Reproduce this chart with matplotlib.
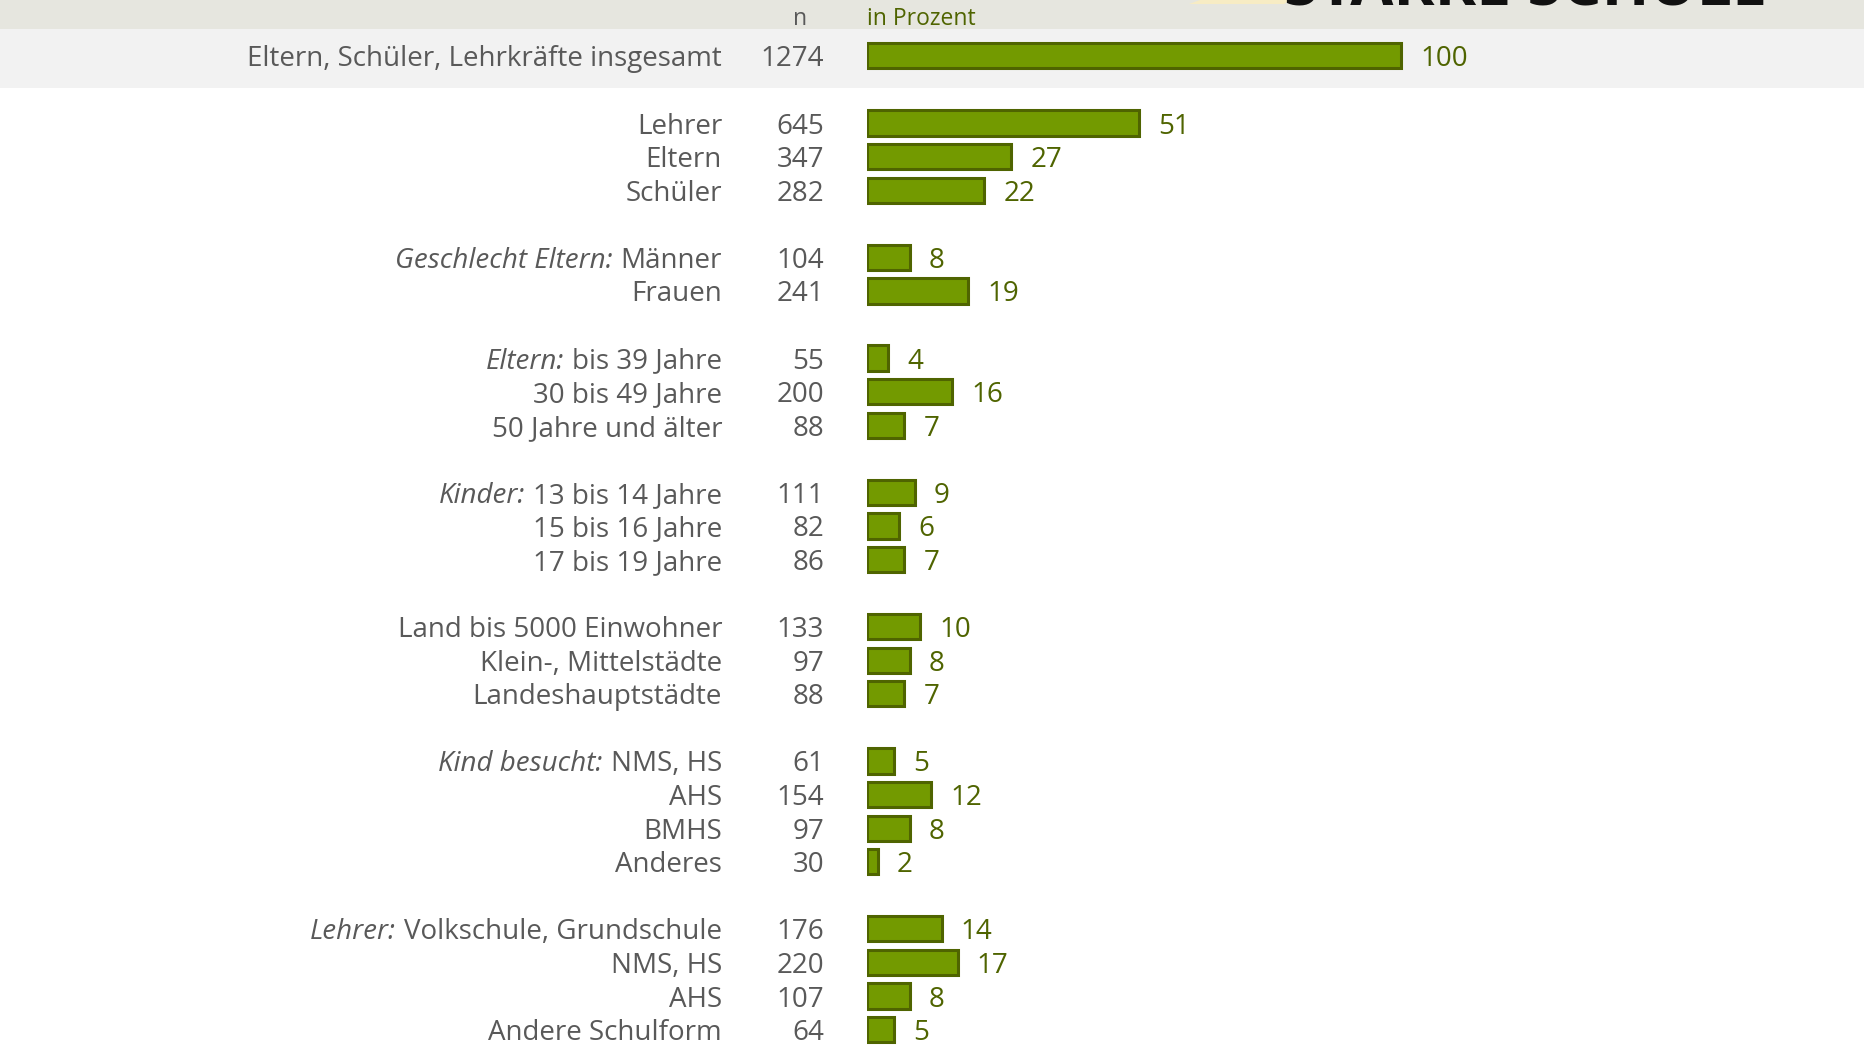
import matplotlib
matplotlib.use("Agg")
import matplotlib.pyplot as plt
from matplotlib.patches import Rectangle, Polygon
from matplotlib.transforms import blended_transform_factory

# data
prefixes = ["", "", "", "", "Geschlecht Eltern:", "", "Eltern:", "", "", "Kinder:", "", "",
            "", "", "", "Kind besucht:", "", "", "", "Lehrer:", "", "", ""]
labels = ["Eltern, Schüler, Lehrkräfte insgesamt",
          "Lehrer", "Eltern", "Schüler",
          "Männer", "Frauen",
          "bis 39 Jahre", "30 bis 49 Jahre", "50 Jahre und älter",
          "13 bis 14 Jahre", "15 bis 16 Jahre", "17 bis 19 Jahre",
          "Land bis 5000 Einwohner", "Klein-, Mittelstädte", "Landeshauptstädte",
          "NMS, HS", "AHS", "BMHS", "Anderes",
          "Volkschule, Grundschule", "NMS, HS", "AHS", "Andere Schulform"]
n_vals = [1274, 645, 347, 282, 104, 241, 55, 200, 88, 111, 82, 86,
          133, 97, 88, 61, 154, 97, 30, 176, 220, 107, 64]
pct = [100, 51, 27, 22, 8, 19, 4, 16, 7, 9, 6, 7, 10, 8, 7, 5, 12, 8, 2, 14, 17, 8, 5]
group_sizes = [1, 3, 2, 3, 3, 3, 4, 4]

# row positions with a blank row between groups
rows = []
r = 0
for g in group_sizes:
    for i in range(g):
        rows.append(r)
        r += 1
    r += 1

W, H = 1864, 1053
fig = plt.figure(figsize=(W / 100, H / 100), dpi=100)
fig.patch.set_facecolor("white")

# header band and highlight band for the total row
fig.patches.append(Rectangle((0, 1 - 29 / H), 1, 29 / H, transform=fig.transFigure,
                             facecolor="#e6e6df", edgecolor="none", zorder=0))
fig.patches.append(Rectangle((0, 1 - 88 / H), 1, 59 / H, transform=fig.transFigure,
                             facecolor="#f2f2f2", edgecolor="none", zorder=0))
fig.patches.append(Polygon([(1189 / W, 1 - 4 / H), (1200 / W, 1), (1290 / W, 1), (1284 / W, 1 - 4 / H)],
                           closed=True, transform=fig.transFigure,
                           facecolor="#f7ecc4", edgecolor="none", zorder=1))

x0 = 867
ppp = 5.34  # pixels per percent
ax = fig.add_axes([x0 / W, 0, 1 - x0 / W, 1])
ax.set_zorder(2)
ax.patch.set_alpha(0)
ax.set_xlim(0, (W - x0) / ppp)
top = -55.9 / 33.57
ax.set_ylim(29 + (H - 1029.6) / 33.57, top)
ax.axis("off")

ax.barh(rows, pct, height=0.75, color="#739a00", edgecolor="#4f6400", linewidth=2.2, zorder=3)

font = "Open Sans"
fs = 20
grey = "#595959"
green = "#4f6400"
tr = blended_transform_factory(fig.transFigure, ax.transData)

fig.canvas.draw()
renderer = fig.canvas.get_renderer()
for y, lab, pre, n, p in zip(rows, labels, prefixes, n_vals, pct):
    t = ax.text(722 / W, y, lab, transform=tr, ha="right", va="center_baseline",
                fontsize=fs, color=grey, family=font)
    if pre:
        bb = t.get_window_extent(renderer=renderer)
        ax.text((bb.x0 - 8) / W, y, pre, transform=tr, ha="right", va="center_baseline",
                fontsize=fs, color=grey, family=font, style="italic")
    ax.text(824 / W, y, str(n), transform=tr, ha="right", va="center_baseline",
            fontsize=fs, color=grey, family=font)
    ax.text(p + 19 / ppp, y, str(p), ha="left", va="center_baseline",
            fontsize=fs, color=green, family=font)

fig.text(800 / W, 1 - 16 / H, "n", ha="center", va="center_baseline", fontsize=16.5, color=grey, family=font)
fig.text(867 / W, 1 - 16 / H, "in Prozent", ha="left", va="center_baseline", fontsize=16.5, color=green, family=font)
fig.text(1284 / W, 1 - 5 / H, "STARKE SCHULE", ha="left", va="baseline", fontsize=45,
         fontweight="bold", color="#111111", family=font)

fig.savefig("out.png", dpi=100)
